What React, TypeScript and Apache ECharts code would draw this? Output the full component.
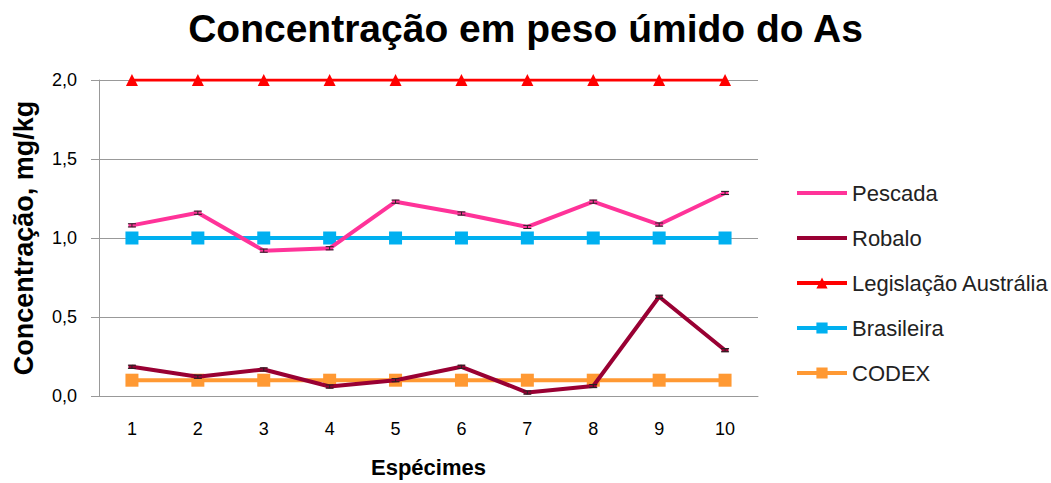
import React, { useEffect, useRef } from "react";
import * as echarts from "echarts";

const categories = ["1", "2", "3", "4", "5", "6", "7", "8", "9", "10"];
const pescada = [1.08, 1.16, 0.92, 0.935, 1.23, 1.155, 1.07, 1.23, 1.085, 1.285];
const robalo = [0.185, 0.122, 0.168, 0.06, 0.1, 0.185, 0.022, 0.063, 0.628, 0.29];
const legislacao = [2.0, 2.0, 2.0, 2.0, 2.0, 2.0, 2.0, 2.0, 2.0, 2.0];
const brasileira = [1.0, 1.0, 1.0, 1.0, 1.0, 1.0, 1.0, 1.0, 1.0, 1.0];
const codex = [0.1, 0.1, 0.1, 0.1, 0.1, 0.1, 0.1, 0.1, 0.1, 0.1];
const pescadaErr = [0.01, 0.01, 0.01, 0.01, 0.01, 0.01, 0.01, 0.01, 0.01, 0.01];
const robaloErr = [0.01, 0.01, 0.01, 0.01, 0.01, 0.01, 0.01, 0.01, 0.01, 0.01];
const yTicks = ["0,0", "0,5", "1,0", "1,5", "2,0"];

const FONT = "Liberation Sans";
const BAR_ICON = "path://M0,0 H50 V4 H0 Z";

function errorSeries(values: number[], errs: number[]) {
  const data = values.map((v, i) => [i, v - errs[i], v + errs[i]]);
  return {
    type: "custom",
    silent: true,
    z: 5,
    renderItem: (params: any, api: any) => {
      const x = api.value(0);
      const lo = api.coord([x, api.value(1)]);
      const hi = api.coord([x, api.value(2)]);
      const hw = 4;
      const style = { stroke: "#222", lineWidth: 1 };
      return {
        type: "group",
        children: [
          { type: "line", shape: { x1: lo[0], y1: lo[1], x2: hi[0], y2: hi[1] }, style },
          { type: "line", shape: { x1: lo[0] - hw, y1: lo[1], x2: lo[0] + hw, y2: lo[1] }, style },
          { type: "line", shape: { x1: hi[0] - hw, y1: hi[1], x2: hi[0] + hw, y2: hi[1] }, style },
        ],
      };
    },
    data,
  };
}

export default function App() {
  const ref = useRef<HTMLDivElement>(null);
  useEffect(() => {
    document.body.style.margin = "0";
    if (!ref.current) return;
    const chart = echarts.init(ref.current, null, { renderer: "svg" });
    chart.setOption({
      animation: false,
      backgroundColor: "#ffffff",
      title: {
        text: "Concentração em peso úmido do As",
        left: "center",
        top: 4,
        textStyle: { fontFamily: FONT, fontWeight: "bold", fontSize: 39, color: "#000" },
      },
      legend: {
        orient: "vertical",
        left: 790,
        top: 177,
        itemWidth: 50,
        itemHeight: 14,
        itemGap: 23,
        lineStyle: { width: 4 },
        textStyle: { fontFamily: FONT, fontSize: 22, color: "#222", lineHeight: 22 },
        data: [
          { name: "Pescada", icon: BAR_ICON },
          { name: "Robalo", icon: BAR_ICON },
          "Legislação Austrália",
          "Brasileira",
          "CODEX",
        ],
      },
      grid: { left: 99, right: 293, top: 80, bottom: 87, containLabel: false },
      xAxis: {
        type: "category",
        data: categories,
        name: "Espécimes",
        nameLocation: "middle",
        nameGap: 60,
        nameTextStyle: { fontFamily: FONT, fontWeight: "bold", fontSize: 22, color: "#000" },
        axisLine: { lineStyle: { color: "#999", width: 1 } },
        axisTick: { show: false },
        axisLabel: { fontFamily: FONT, fontSize: 18, color: "#000", margin: 24 },
      },
      yAxis: {
        type: "value",
        min: 0,
        max: 2,
        interval: 0.5,
        name: "Concentração, mg/kg",
        nameLocation: "middle",
        nameGap: 62,
        nameTextStyle: { fontFamily: FONT, fontWeight: "bold", fontSize: 27, color: "#000" },
        axisLine: { show: true, lineStyle: { color: "#999", width: 1 } },
        axisTick: { show: true, length: 8, lineStyle: { color: "#999" } },
        splitLine: { lineStyle: { color: "#999", width: 1 } },
        axisLabel: {
          fontFamily: FONT,
          fontSize: 18,
          color: "#000",
          margin: 22,
          formatter: (v: number) => yTicks[Math.round(v / 0.5)] ?? String(v),
        },
      },
      series: [
        {
          name: "Pescada",
          type: "line",
          data: pescada,
          color: "#FF3399",
          lineStyle: { width: 4 },
          symbol: "rect",
          symbolSize: [7, 4],
          z: 4,
        },
        {
          name: "Robalo",
          type: "line",
          data: robalo,
          color: "#990033",
          lineStyle: { width: 4 },
          symbol: "rect",
          symbolSize: [7, 4],
          z: 4,
        },
        {
          name: "Legislação Austrália",
          type: "line",
          data: legislacao,
          color: "#FF0000",
          lineStyle: { width: 3 },
          symbol: "triangle",
          symbolSize: 12,
        },
        {
          name: "Brasileira",
          type: "line",
          data: brasileira,
          color: "#00B0F0",
          lineStyle: { width: 4 },
          symbol: "rect",
          symbolSize: 13,
        },
        {
          name: "CODEX",
          type: "line",
          data: codex,
          color: "#FF9933",
          lineStyle: { width: 4 },
          symbol: "rect",
          symbolSize: 13,
        },
        errorSeries(pescada, pescadaErr),
        errorSeries(robalo, robaloErr),
      ],
    });
    return () => chart.dispose();
  }, []);
  return <div ref={ref} style={{ width: 1051, height: 483 }} />;
}
